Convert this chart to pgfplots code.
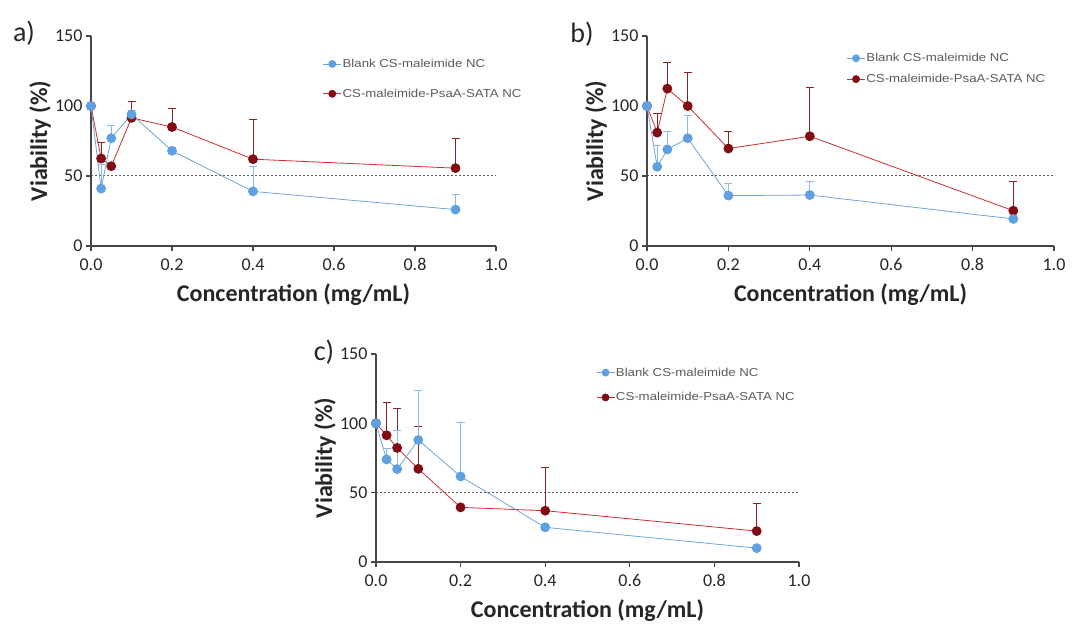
\documentclass[border=0pt]{standalone}
\usepackage{fontspec}
\setmainfont{Carlito}
\newfontfamily\legfont[FakeStretch=1.15]{Liberation Sans}
\usepackage{pgfplots}
\pgfplotsset{compat=1.18}

\definecolor{axisgray}{RGB}{70,70,70}
\definecolor{bluemk}{RGB}{95,160,225}
\definecolor{blueln}{RGB}{110,165,215}
\definecolor{blueerr}{RGB}{140,185,230}
\definecolor{redmk}{RGB}{130,12,20}
\definecolor{redln}{RGB}{205,45,45}
\definecolor{rederr}{RGB}{135,35,35}
\definecolor{leggray}{RGB}{90,90,90}

\pgfplotsset{
  panel/.style={
    scale only axis,
    anchor=south west,
    xmin=0, xmax=1, ymin=0, ymax=150,
    axis lines=left,
    axis line style={-, line width=1.1pt, draw=axisgray},
    every tick/.style={line width=1.1pt, draw=axisgray},
    tick align=outside,
    major tick length=5pt,
    xtick={0,0.2,0.4,0.6,0.8,1},
    ytick={0,50,100,150},
    /pgf/number format/assume math mode=true,
    xticklabel style={/pgf/number format/.cd, fixed, fixed zerofill, precision=1, /tikz/.cd, yshift=-4pt},
    tick label style={font=\fontsize{18}{20}\selectfont, text=black!85},
    label style={font=\bfseries\fontsize{24}{27}\selectfont, text=black!85},
    xlabel={Concentration (mg/mL)},
    ylabel={Viability (\%)},
    xlabel style={at={(axis description cs:0.5,0)}, anchor=center, yshift=-49pt},
    ylabel style={at={(axis description cs:0,0.5)}, anchor=center, yshift=51pt},
    clip=false,
    legend cell align=left,
    reverse legend,
    legend style={draw=none, fill=none, inner sep=0pt, anchor=north west,
      font=\legfont\fontsize{11.5}{13}\selectfont, text=leggray,
      nodes={inner sep=1pt}},
    legend image code/.code={
      \draw[mark repeat=2, mark phase=2, #1, mark size=3.5pt]
        plot coordinates {(0pt,0pt) (9pt,0pt) (18pt,0pt)};},
  },
  blueser/.style={color=blueln, line width=0.8pt, mark=*, mark size=4.5pt,
    mark options={fill=bluemk, draw=bluemk},
    error bars/.cd, y dir=plus, y explicit, error mark=-,
    error bar style={blueerr, line width=0.9pt},
    error mark options={rotate=90, blueerr, line width=1pt, mark size=4pt}},
  redser/.style={color=redln, line width=0.8pt, mark=*, mark size=4.5pt,
    mark options={fill=redmk, draw=redmk},
    error bars/.cd, y dir=plus, y explicit, error mark=-,
    error bar style={rederr, line width=0.9pt},
    error mark options={rotate=90, rederr, line width=1pt, mark size=4pt}},
  fifty/.style={gray!70!black, line width=1pt, dash pattern=on 2pt off 2pt},
}

\begin{document}
\begin{tikzpicture}
\useasboundingbox (0pt,0pt) rectangle (1089pt,624pt);

% panel a
\begin{axis}[panel, at={(91pt,378pt)}, width=405pt, height=210pt,
  legend style={at={(0.572,0.896)}, row sep=18pt}]
\addplot[fifty, forget plot] coordinates {(0,50) (1,50)};
\addplot[redser] coordinates {
  (0,100) +- (0,0)
  (0.025,62.5) +- (0,11.5)
  (0.05,57) +- (0,0)
  (0.1,91.5) +- (0,11.5)
  (0.2,85) +- (0,13)
  (0.4,62) +- (0,28)
  (0.9,55.6) +- (0,21)
};
\addlegendentry{CS-maleimide-PsaA-SATA NC}
\addplot[blueser] coordinates {
  (0,100) +- (0,0)
  (0.025,41) +- (0,17)
  (0.05,77) +- (0,9)
  (0.1,94) +- (0,3)
  (0.2,68) +- (0,2)
  (0.4,39) +- (0,18)
  (0.9,26) +- (0,11)
};
\addlegendentry{Blank CS-maleimide NC}
\end{axis}

% panel b
\begin{axis}[panel, at={(647pt,378pt)}, width=407pt, height=210pt,
  legend style={at={(0.49,0.923)}, row sep=9pt}]
\addplot[fifty, forget plot] coordinates {(0,50) (1,50)};
\addplot[redser] coordinates {
  (0,100) +- (0,0)
  (0.025,81) +- (0,13.6)
  (0.05,112.4) +- (0,19)
  (0.1,100) +- (0,24)
  (0.2,69.6) +- (0,12)
  (0.4,78.4) +- (0,35)
  (0.9,25.2) +- (0,21)
};
\addlegendentry{CS-maleimide-PsaA-SATA NC}
\addplot[blueser] coordinates {
  (0,100) +- (0,0)
  (0.025,56.6) +- (0,15.4)
  (0.05,69) +- (0,13)
  (0.1,77) +- (0,16.4)
  (0.2,36) +- (0,8.7)
  (0.4,36.4) +- (0,9.6)
  (0.9,19.3) +- (0,0)
};
\addlegendentry{Blank CS-maleimide NC}
\end{axis}

% panel c
\begin{axis}[panel, at={(376pt,62pt)}, width=423pt, height=208pt,
  legend style={at={(0.52,0.94)}, row sep=13pt}]
\addplot[fifty, forget plot] coordinates {(0,50) (1,50)};
\addplot[redser] coordinates {
  (0,100) +- (0,0)
  (0.025,91.4) +- (0,23.6)
  (0.05,82.3) +- (0,28.7)
  (0.1,67.2) +- (0,30.5)
  (0.2,39.4) +- (0,0)
  (0.4,37) +- (0,31)
  (0.9,22.3) +- (0,19.7)
};
\addlegendentry{CS-maleimide-PsaA-SATA NC}
\addplot[blueser] coordinates {
  (0,100) +- (0,0)
  (0.025,74) +- (0,8)
  (0.05,67) +- (0,28)
  (0.1,88) +- (0,35.6)
  (0.2,61.7) +- (0,39)
  (0.4,25) +- (0,0)
  (0.9,10) +- (0,2)
};
\addlegendentry{Blank CS-maleimide NC}
\end{axis}

\node[font=\fontsize{28}{30}\selectfont, text=black!85] at (24pt,591pt) {a)};
\node[font=\fontsize{28}{30}\selectfont, text=black!85] at (582pt,590pt) {b)};
\node[font=\fontsize{28}{30}\selectfont, text=black!85] at (324pt,272pt) {c)};
\end{tikzpicture}
\end{document}
